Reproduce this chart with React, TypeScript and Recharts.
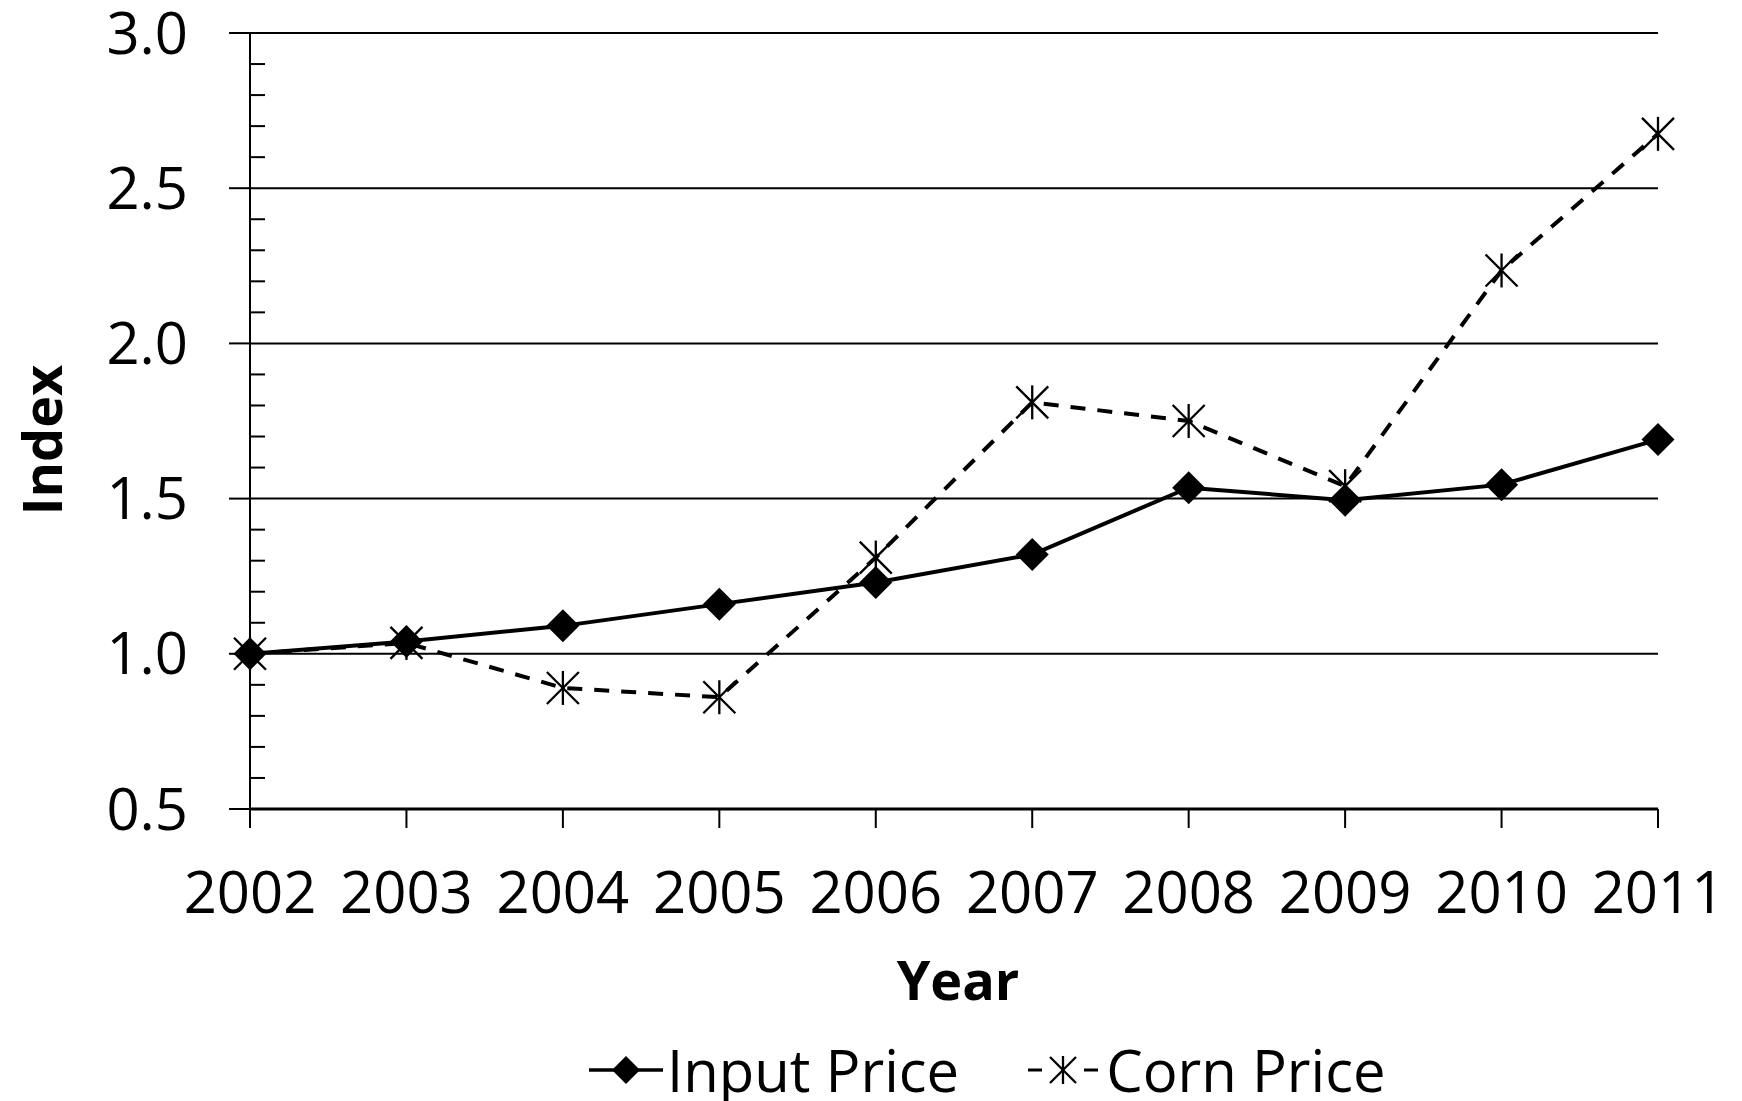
import { CartesianGrid, Label, Legend, Line, LineChart, XAxis, YAxis } from 'recharts'

const years = ['2002', '2003', '2004', '2005', '2006', '2007', '2008', '2009', '2010', '2011']
const inputPrice = [1.0, 1.04, 1.09, 1.16, 1.23, 1.32, 1.535, 1.495, 1.545, 1.69]
const cornPrice = [1.0, 1.035, 0.89, 0.86, 1.31, 1.81, 1.75, 1.54, 2.235, 2.675]
const majorTicks = [0.5, 1.0, 1.5, 2.0, 2.5, 3.0]
const allTicks = [
  0.5, 0.6, 0.7, 0.8, 0.9, 1.0, 1.1, 1.2, 1.3, 1.4, 1.5, 1.6, 1.7, 1.8, 1.9, 2.0, 2.1, 2.2, 2.3, 2.4, 2.5,
  2.6, 2.7, 2.8, 2.9, 3.0,
]
const seriesNames = ['Input Price', 'Corn Price']
const xTitle = 'Year'
const yTitle = 'Index'

const data = years.map((year, i) => ({ year, input: inputPrice[i], corn: cornPrice[i] }))

const FONT = '"Open Sans", sans-serif'

const Diamond = ({ cx, cy, size = 16.5 }: any) => {
  if (cx == null || cy == null) return null
  const s = size
  return <path d={`M${cx},${cy - s}L${cx + s},${cy}L${cx},${cy + s}L${cx - s},${cy}Z`} fill="#000" />
}

const Star = ({ cx, cy, size = 16 }: any) => {
  if (cx == null || cy == null) return null
  const s = size
  return (
    <g stroke="#000" strokeWidth={2.3}>
      <line x1={cx - s} y1={cy - s} x2={cx + s} y2={cy + s} />
      <line x1={cx - s} y1={cy + s} x2={cx + s} y2={cy - s} />
      <line x1={cx} y1={cy - s - 1} x2={cx} y2={cy + s + 1} />
    </g>
  )
}

// y ticks: labelled major ticks outside every 0.5, short minor ticks inside every 0.1
const YTick = ({ x, y, payload }: any) => {
  const v = payload.value
  const major = majorTicks.some((t) => Math.abs(t - v) < 1e-6)
  if (!major) return <line x1={x} y1={y} x2={x + 15} y2={y} stroke="#000" strokeWidth={2} />
  return (
    <g>
      <line x1={x - 21} y1={y} x2={x} y2={y} stroke="#000" strokeWidth={2} />
      <text x={x - 62} y={y} dy="0.355em" textAnchor="end" fontFamily={FONT} fontSize={58} fill="#000">
        {v.toFixed(1)}
      </text>
    </g>
  )
}

const IndexLabel = ({ viewBox }: any) => {
  const x = viewBox.x + 62
  const y = viewBox.y + viewBox.height / 2 + 19
  return (
    <text x={x} y={y} transform={`rotate(-90, ${x}, ${y})`} textAnchor="middle" fontFamily={FONT} fontWeight={700} fontSize={54} fill="#000">
      {yTitle}
    </text>
  )
}

const YearLabel = ({ viewBox }: any) => (
  <text x={viewBox.x + viewBox.width / 2 + 4} y={viewBox.y + 191} textAnchor="middle" fontFamily={FONT} fontWeight={700} fontSize={54} fill="#000">
    {xTitle}
  </text>
)

const LegendContent = () => (
  <div style={{ display: 'flex', alignItems: 'center', fontFamily: FONT, fontSize: 58, color: '#000', lineHeight: '80px' }}>
    <svg width={74} height={40} style={{ marginRight: 4 }}>
      <line x1={0} y1={20} x2={74} y2={20} stroke="#000" strokeWidth={3.5} />
      <Diamond cx={37} cy={20} size={14} />
    </svg>
    <span style={{ marginRight: 67 }}>{seriesNames[0]}</span>
    <svg width={74} height={40} style={{ marginRight: 6 }}>
      <line x1={2} y1={20} x2={16} y2={20} stroke="#000" strokeWidth={3} />
      <line x1={58} y1={20} x2={72} y2={20} stroke="#000" strokeWidth={3} />
      <Star cx={37} cy={20} size={13} />
    </svg>
    <span>{seriesNames[1]}</span>
  </div>
)

export default function App() {
  return (
    <div style={{ position: 'absolute', left: 0, top: 0, width: 1742, height: 1101, background: '#fff', overflow: 'hidden' }}>
      <LineChart width={1742} height={1101} data={data} margin={{ top: 33, right: 84, left: 0, bottom: 0 }}>
        <CartesianGrid vertical={false} horizontalValues={majorTicks} stroke="#000" strokeWidth={2} />
        <YAxis
          type="number"
          domain={[0.5, 3]}
          ticks={allTicks}
          interval={0}
          width={250}
          tick={<YTick />}
          tickSize={0}
          tickMargin={0}
          tickLine={false}
          axisLine={{ stroke: '#000', strokeWidth: 2 }}
        >
          <Label content={IndexLabel} />
        </YAxis>
        <YAxis
          yAxisId="right"
          orientation="right"
          width={0}
          type="number"
          domain={[0.5, 3]}
          tick={false}
          tickLine={false}
          axisLine={{ stroke: '#000', strokeWidth: 2 }}
        />
        <XAxis
          dataKey="year"
          height={292}
          interval={0}
          tickSize={19}
          tickMargin={44}
          tick={{ fontSize: 58, fill: '#000', fontFamily: FONT }}
          tickLine={{ stroke: '#000', strokeWidth: 2 }}
          axisLine={{ stroke: '#000', strokeWidth: 3 }}
        >
          <Label content={YearLabel} />
        </XAxis>
        <Line
          dataKey="corn"
          name={seriesNames[1]}
          stroke="#000"
          strokeWidth={4}
          strokeDasharray="15 12"
          dot={<Star />}
          activeDot={false}
          isAnimationActive={false}
        />
        <Line
          dataKey="input"
          name={seriesNames[0]}
          stroke="#000"
          strokeWidth={4}
          dot={<Diamond />}
          activeDot={false}
          isAnimationActive={false}
        />
        <Legend
          layout="horizontal"
          verticalAlign="middle"
          align="center"
          content={LegendContent}
          wrapperStyle={{ left: 589, top: 1030, width: 900 }}
        />
      </LineChart>
    </div>
  )
}
